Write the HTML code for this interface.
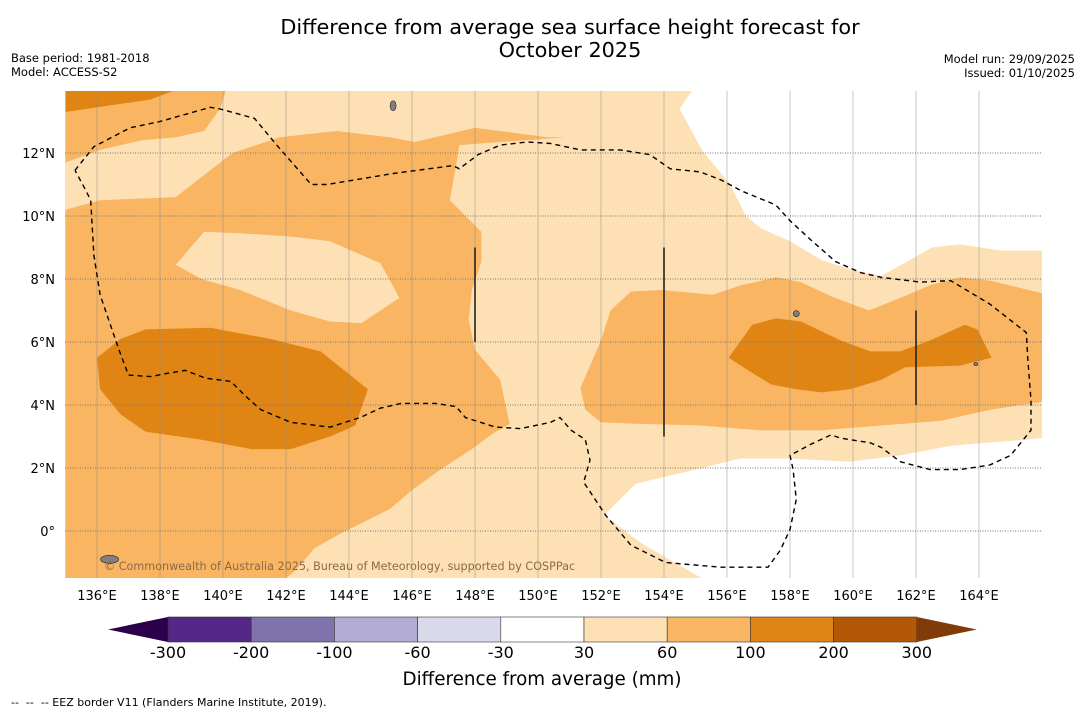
<!DOCTYPE html>
<html><head><meta charset="utf-8">
<style>
body{margin:0;background:#fff;width:1085px;height:713px;overflow:hidden;font-family:"Liberation Sans","DejaVu Sans",sans-serif;}
svg text{font-family:"DejaVu Sans","Liberation Sans",sans-serif;}
</style></head>
<body>
<svg id="chart" width="1085" height="713" xmlns="http://www.w3.org/2000/svg">
<text x="570" y="34" font-size="20.8" text-anchor="middle">Difference from average sea surface height forecast for</text>
<text x="570" y="57" font-size="20.8" text-anchor="middle">October 2025</text>
<text x="11" y="62" font-size="11.5">Base period: 1981-2018</text>
<text x="11" y="76" font-size="11.5">Model: ACCESS-S2</text>
<text x="1075" y="63" font-size="11.5" text-anchor="end">Model run: 29/09/2025</text>
<text x="1075" y="77" font-size="11.5" text-anchor="end">Issued: 01/10/2025</text>
<defs><clipPath id="mapclip"><rect x="65" y="91" width="977" height="487"/></clipPath></defs>
<g id="map" clip-path="url(#mapclip)"></g>
<g id="axes"></g>
<g id="cbar"></g>
<text x="542" y="685" font-size="18.3" text-anchor="middle">Difference from average (mm)</text>
<text x="11" y="706" font-size="11" xml:space="preserve">--  --  -- EEZ border V11 (Flanders Marine Institute, 2019).</text>
</svg>
<script>
const lonTicks=[136,138,140,142,144,146,148,150,152,154,156,158,160,162,164];
const latTicks=[0,2,4,6,8,10,12];
const cbarLabels=["-300","-200","-100","-60","-30","30","60","100","200","300"];
const cbarColors=["#542788","#8073ac","#b2abd2","#d8daeb","#ffffff","#fde0b4","#f9b562","#e08513","#b35806"];
const topBandMid=[[135,14],[140.1,14],[139.9,13.4],[139.4,12.7],[138.5,12.5],[137.4,12.4],[136.1,12.1],[135,11.7]];
const topBandDark=[[135,14],[138.5,14],[137.7,13.7],[135,13.3]];
const westMid=[[135,10.2],[136.1,10.5],[138.5,10.6],[139.4,11.3],[140.3,12.0],[141.8,12.5],[143.6,12.7],[145.3,12.5],[146.1,12.35],[148.0,12.8],[150.3,12.5],[150.9,12.5],[148.8,12.35],[147.5,12.25],[147.4,11.6],[147.2,10.5],[147.7,10.0],[148.2,9.5],[148.2,8.55],[147.9,7.65],[147.8,6.7],[148.0,5.75],[148.8,4.8],[149.1,3.4],[148.5,3.05],[147.9,2.6],[146.9,1.95],[146.0,1.3],[145.3,0.7],[143.7,-0.1],[142.9,-0.55],[142.3,-1.25],[142.0,-1.5],[135,-1.5]];
const westHole=[[138.5,8.45],[139.4,9.5],[140.55,9.45],[142.15,9.35],[143.4,9.2],[145.0,8.5],[145.6,7.4],[144.4,6.6],[143.4,6.65],[142.15,7.0],[140.55,7.65],[139.3,8.0]];
const westDark=[[136.0,5.5],[136.75,6.1],[137.55,6.4],[139.6,6.45],[141.5,6.1],[143.1,5.7],[144.6,4.5],[144.2,3.35],[143.4,3.0],[142.15,2.6],[140.9,2.6],[139.3,2.9],[137.55,3.15],[136.75,3.7],[136.1,4.5]];
const eastMid=[[151.35,4.55],[152.0,6.05],[152.3,7.0],[152.95,7.6],[153.9,7.65],[155.55,7.5],[156.45,7.8],[157.55,8.05],[158.35,7.9],[159.3,7.45],[160.5,7.0],[161.5,7.4],[162.45,7.8],[163.4,8.05],[164.35,7.95],[166,7.55],[166,4.1],[164.35,3.85],[162.8,3.5],[160.9,3.35],[159.0,3.2],[157.05,3.2],[155.15,3.35],[153.25,3.4],[152.0,3.45],[151.5,3.85]];
const eastDark=[[156.05,5.5],[156.8,6.55],[157.55,6.75],[158.35,6.65],[159.6,6.05],[160.55,5.7],[161.5,5.7],[162.45,6.05],[163.55,6.55],[163.95,6.4],[164.4,5.5],[163.4,5.25],[161.65,5.2],[160.9,4.8],[159.9,4.5],[159.0,4.4],[158.2,4.5],[157.4,4.65],[156.75,5.05]];
const whiteNE=[[154.9,14],[154.5,13.4],[155.2,12.1],[156.1,11.0],[156.6,10.0],[157.1,9.6],[158.0,9.2],[159.0,8.6],[159.9,8.3],[160.9,8.1],[162.5,9.0],[163.4,9.1],[164.7,8.9],[166,8.9],[166,14]];
const whiteSE=[[152.1,0.5],[153.1,1.5],[154.8,1.9],[156.4,2.3],[158.0,2.3],[159.9,2.2],[161.5,2.4],[163.1,2.7],[166,2.95],[166,-1.5],[155.2,-1.5],[153.3,-0.4]];
const eezLine=[[135.3,11.45],[135.9,12.2],[137.05,12.8],[138.0,13.0],[139.6,13.45],[139.9,13.4],[141.0,13.1],[141.75,12.2],[142.8,11.0],[143.3,11.0],[145.4,11.35],[147.3,11.6],[147.5,11.5],[148.1,11.95],[148.8,12.25],[149.65,12.35],[150.4,12.3],[151.35,12.1],[152.6,12.1],[153.55,11.95],[154.2,11.5],[155.15,11.4],[155.8,11.15],[156.45,10.8],[157.55,10.35],[158.0,9.85],[158.65,9.25],[159.45,8.55],[160.25,8.2],[160.9,8.05],[162.15,7.9],[163.1,7.95],[164.35,7.2],[165.5,6.3],[165.55,5.45],[165.65,4.15],[165.65,3.2],[165.0,2.4],[164.35,2.1],[163.4,1.95],[162.45,1.95],[161.5,2.2],[160.9,2.65],[160.55,2.8],[159.6,2.95],[159.3,3.05],[158.65,2.75],[158.0,2.4],[158.1,1.95],[158.2,1.0],[158.0,0.05],[157.7,-0.6],[157.3,-1.15],[155.8,-1.15],[154.05,-1.0],[152.95,-0.45],[152.15,0.5],[151.45,1.55],[151.65,2.25],[151.5,2.9],[151.05,3.2],[150.7,3.6],[150.4,3.45],[149.45,3.25],[148.65,3.3],[147.7,3.6],[147.4,3.95],[146.75,4.05],[145.65,4.05],[145.0,3.9],[144.35,3.6],[143.4,3.3],[142.15,3.45],[141.2,3.85],[140.7,4.3],[140.25,4.75],[139.45,4.85],[138.8,5.1],[138.2,5.0],[137.7,4.9],[137.0,4.95],[136.7,5.75],[136.1,7.5],[135.9,8.75],[135.8,10.5],[135.65,10.8],[135.3,11.45]];
const eezSegments=[[[148,9],[148,6]],[[154,9],[154,3]],[[162,7],[162,4]]];
const islands=[[136.4,-0.9,9,4],[145.4,13.5,3,5],[158.2,6.9,3,3],[163.9,5.3,2,1.5],[150.6,-1.6,3,3]];

const NS='http://www.w3.org/2000/svg';
const X=lon=>97+(lon-136)*31.5;
const Y=lat=>531-lat*31.5;
const pts=a=>a.map(p=>X(p[0]).toFixed(1)+','+Y(p[1]).toFixed(1)).join(' ');
function mk(tag,attrs,parent){const e=document.createElementNS(NS,tag);for(const k in attrs)e.setAttribute(k,attrs[k]);parent.appendChild(e);return e;}
const map=document.getElementById('map');
let bg=mk('rect',{x:65,y:91,width:977,height:487,fill:'#fde0b4'},map);


function poly(a,fill,name){const p=mk('polygon',{points:pts(a),fill:fill},map);

return p;}
poly(whiteNE,'#ffffff','neutral-region-northeast');
poly(whiteSE,'#ffffff','neutral-region-southeast');
poly(topBandMid,'#f9b562','contour-60-100-north');
poly(topBandDark,'#e08513','contour-100-200-north');
poly(westMid,'#f9b562','contour-60-100-west');
poly(westHole,'#fde0b4','contour-30-60-west-pocket');
poly(westDark,'#e08513','contour-100-200-west');
poly(eastMid,'#f9b562','contour-60-100-east');
poly(eastDark,'#e08513','contour-100-200-east');
lonTicks.forEach(l=>{const g=mk('line',{x1:X(l),x2:X(l),y1:91,y2:578,stroke:'#8a8a8a','stroke-width':0.8,'stroke-opacity':0.6},map);

});
latTicks.forEach(l=>{const g=mk('line',{x1:65,x2:1042,y1:Y(l),y2:Y(l),stroke:'#777','stroke-width':0.9,'stroke-dasharray':'1,1.5'},map);

});
islands.forEach(i=>{const e=mk('ellipse',{cx:X(i[0]),cy:Y(i[1]),rx:i[2],ry:i[3],fill:'#808080',stroke:'#222','stroke-width':0.6},map);

});
const eez=mk('polyline',{points:pts(eezLine),fill:'none',stroke:'#000','stroke-width':1.4,'stroke-dasharray':'5,4'},map);


eezSegments.forEach(s=>{const l=mk('line',{x1:X(s[0][0]),y1:Y(s[0][1]),x2:X(s[1][0]),y2:Y(s[1][1]),stroke:'#222','stroke-width':1.6},map);

});
const cr=mk('text',{x:104,y:570,'font-size':11.2,fill:'#8a6a48'},map);cr.textContent='© Commonwealth of Australia 2025, Bureau of Meteorology, supported by COSPPac';


const axes=document.getElementById('axes');
lonTicks.forEach(l=>{const t=mk('text',{x:X(l),y:600,'font-size':13,'text-anchor':'middle'},axes);t.textContent=l+'°E';

});
latTicks.forEach(l=>{const t=mk('text',{x:55,y:Y(l)+5,'font-size':13,'text-anchor':'end'},axes);t.textContent=l===0?'0°':l+'°N';

});
const cb=document.getElementById('cbar');
const cx0=168,cw=83.2,cy0=617,ch=25;
const lt=mk('polygon',{points:`108,${cy0+ch/2} ${cx0},${cy0} ${cx0},${cy0+ch}`,fill:'#2d004b'},cb);


cbarColors.forEach((c,i)=>{const r=mk('rect',{x:cx0+i*cw,y:cy0,width:cw,height:ch,fill:c,stroke:'#333','stroke-width':0.6},cb);

});
const xe=cx0+cbarColors.length*cw;
const rt=mk('polygon',{points:`${xe},${cy0} ${xe+60},${cy0+ch/2} ${xe},${cy0+ch}`,fill:'#7f3b08'},cb);


cbarLabels.forEach((s,i)=>{const t=mk('text',{x:cx0+i*cw,y:658,'font-size':16,'text-anchor':'middle'},cb);t.textContent=s;

});
</script>
</body></html>
